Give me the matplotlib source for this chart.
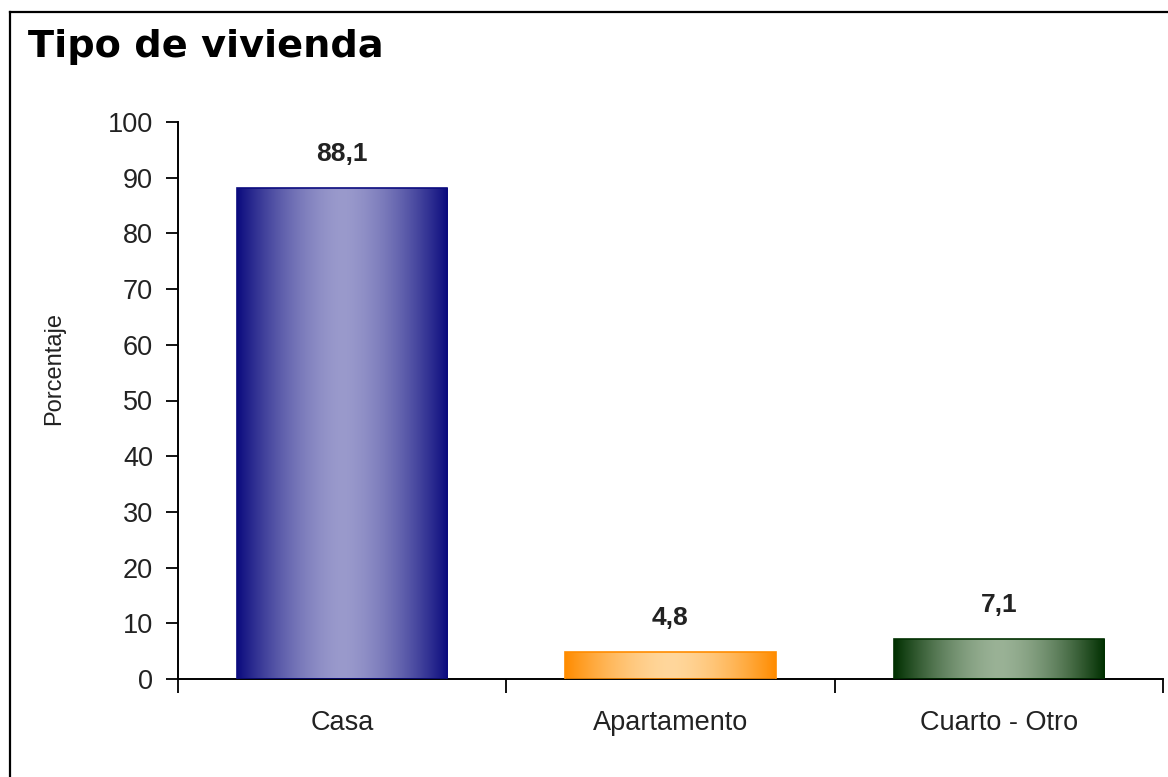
import matplotlib as mpl
import matplotlib.pyplot as plt
import numpy as np
from matplotlib.colors import to_rgb
from matplotlib.lines import Line2D

mpl.rcParams['font.family'] = ['Liberation Sans', 'DejaVu Sans']

# Data
categories = ["Casa", "Apartamento", "Cuarto - Otro"]
values = [88.1, 4.8, 7.1]
y_ticks = [0, 10, 20, 30, 40, 50, 60, 70, 80, 90, 100]

# Gradient colors (edge, centre) for each bar
edge_colors = ["#0B0B7E", "#FF8C00", "#013001"]
center_colors = ["#9A9ACC", "#FFD79C", "#9AB296"]


def gradient_image(dark, light, n=256):
    t = np.abs(np.linspace(-1, 1, n))
    t = t ** 1.6
    d = np.array(to_rgb(dark))
    l = np.array(to_rgb(light))
    row = l[None, :] + (d - l)[None, :] * t[:, None]
    return row[None, :, :]


fig = plt.figure(figsize=(11.68, 7.77), dpi=100)
ax = fig.add_axes([178 / 1168, 1 - 679 / 777, 985 / 1168, 557 / 777])

X = np.arange(len(categories))
bars = ax.bar(X, values, width=0.64, color='none', edgecolor=edge_colors, linewidth=1.2, zorder=3)

for bar, dark, light in zip(bars, edge_colors, center_colors):
    x0 = bar.get_x()
    w = bar.get_width()
    h = bar.get_height()
    im = ax.imshow(gradient_image(dark, light), extent=[x0, x0 + w, 0, h],
                   aspect='auto', zorder=2, interpolation='bilinear')
    im.set_clip_path(bar)

# Value labels
for xi, v in zip(X, values):
    ax.annotate(f"{v:.1f}".replace('.', ','), (xi, v), xytext=(0, 16),
                textcoords='offset points', ha='center', va='bottom',
                fontsize=19, fontweight='bold', color='#222222')

ax.set_xlim(-0.5, len(categories) - 0.5)
ax.set_ylim(0, 100)
ax.set_yticks(y_ticks)
ax.tick_params(axis='y', length=9, width=1.3, pad=9, labelsize=19.5, colors='black',
               labelcolor='#222222')
ax.set_xticks(X, categories)
ax.tick_params(axis='x', which='major', length=0, pad=22, labelsize=19.5, labelcolor='#222222')
ax.set_xticks(np.arange(len(categories) + 1) - 0.5, minor=True)
ax.tick_params(axis='x', which='minor', length=10, width=1.3)

ax.set_ylabel("Porcentaje", fontsize=17, color='#222222')
ax.yaxis.set_label_coords(-0.115, 0.558)

for side in ['top', 'right']:
    ax.spines[side].set_visible(False)
for side in ['left', 'bottom']:
    ax.spines[side].set_linewidth(1.4)
    ax.spines[side].set_color('black')

# Outer frame (top and left edges visible)
fig.add_artist(Line2D([10 / 1168, 1.0], [1 - 12 / 777, 1 - 12 / 777], color='black', linewidth=1.6,
                      transform=fig.transFigure))
fig.add_artist(Line2D([10 / 1168, 10 / 1168], [0.0, 1 - 12 / 777], color='black', linewidth=1.6,
                      transform=fig.transFigure))

fig.text(28 / 1168, 1 - 57 / 777, "Tipo de vivienda", fontsize=27.5, fontweight='bold',
         family='DejaVu Sans', va='baseline', ha='left')

plt.savefig("out.png", dpi=100)
